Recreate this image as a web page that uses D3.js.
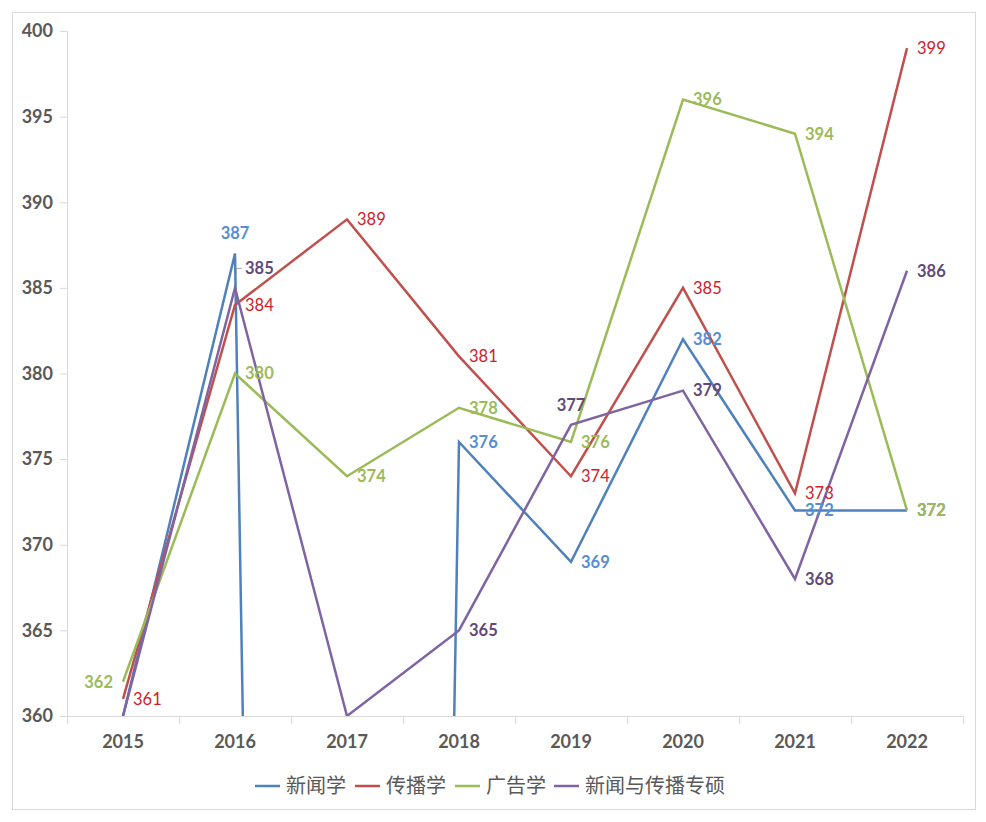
<!DOCTYPE html>
<html>
<head>
<meta charset="utf-8">
<script src="https://cdn.jsdelivr.net/npm/d3@7"></script>
<style>
  body { margin: 0; background: #fff; }
  svg { display: block; }
</style>
</head>
<body>
<div class="container"></div>
<script>
// 年份
const years = ["2015", "2016", "2017", "2018", "2019", "2020", "2021", "2022"];
// 各专业分数线（2017 新闻学无数据，按 0 画出）
const xinwen = [360, 387, 0, 376, 369, 382, 372, 372];
const chuanbo = [361, 384, 389, 381, 374, 385, 373, 399];
const guanggao = [362, 380, 374, 378, 376, 396, 394, 372];
const zhuanshuo = [360, 385, 360, 365, 377, 379, 368, 386];
const seriesNames = ["新闻学", "传播学", "广告学", "新闻与传播专硕"];
const yTicks = [360, 365, 370, 375, 380, 385, 390, 395, 400];

const width = 986, height = 822;
const plotLeft = 67, plotRight = 963, plotTop = 31, plotBottom = 716;

const lineColors = ["#4f81bd", "#c0504d", "#9bbb59", "#8064a2"];
const labelColors = ["#558ed5", "#d0202a", "#9bbb59", "#604a7b"];
const labelWeights = ["bold", "normal", "bold", "bold"];

// 标签位置：默认在点的右边，个别挪开
const labelPos = {
  "0_1": "above",
  "2_0": "left",
  "3_1": "upright",
  "3_4": "above"
};

const svg = d3.select(".container")
  .append("svg")
  .attr("width", width)
  .attr("height", height);

// 外框
svg.append("rect")
  .attr("x", 12.5).attr("y", 12.5)
  .attr("width", 963).attr("height", 797)
  .attr("fill", "#fff")
  .attr("stroke", "#d9d9d9");

const x = d3.scaleBand().domain(years).range([plotLeft, plotRight]);
const y = d3.scaleLinear().domain([360, 400]).range([plotBottom, plotTop]);
const cx = d => x(d) + x.bandwidth() / 2;

// y 轴
const yAxis = svg.append("g")
  .attr("transform", `translate(${plotLeft},0)`)
  .call(d3.axisLeft(y).tickValues(yTicks).tickSize(7).tickPadding(7));
yAxis.select(".domain").attr("stroke", "#d9d9d9");
yAxis.selectAll(".tick line").attr("stroke", "#d9d9d9");
yAxis.selectAll("text")
  .attr("fill", "#595959")
  .style("font-family", "Lato, 'Open Sans', sans-serif")
  .style("font-size", "18px")
  .style("font-weight", "bold");

// x 轴，刻度在类别之间
const xAxis = svg.append("g")
  .attr("transform", `translate(0,${plotBottom})`)
  .call(d3.axisBottom(x).tickSize(0).tickPadding(19));
xAxis.select(".domain").attr("stroke", "#d9d9d9");
xAxis.selectAll("text")
  .attr("fill", "#595959")
  .style("font-family", "Lato, 'Open Sans', sans-serif")
  .style("font-size", "18px")
  .style("font-weight", "bold");
const bounds = years.map(d => x(d)).concat([plotRight]);
xAxis.selectAll(".sep")
  .data(bounds)
  .join("line")
  .attr("class", "sep")
  .attr("x1", d => d + 0.5).attr("x2", d => d + 0.5)
  .attr("y1", 0).attr("y2", 8)
  .attr("stroke", "#d9d9d9");

// 裁剪区
svg.append("clipPath").attr("id", "plot")
  .append("rect")
  .attr("x", plotLeft).attr("y", plotTop - 2)
  .attr("width", plotRight - plotLeft).attr("height", plotBottom - plotTop + 2);

const allSeries = [xinwen, chuanbo, guanggao, zhuanshuo];

const line = d3.line()
  .x((d, i) => cx(years[i]))
  .y(d => y(d));

const lines = svg.append("g").attr("clip-path", "url(#plot)");
allSeries.forEach((s, k) => {
  lines.append("path")
    .datum(s)
    .attr("d", line)
    .attr("fill", "none")
    .attr("stroke", lineColors[k])
    .attr("stroke-width", 2.5)
    .attr("stroke-linejoin", "miter");
});

// 数据标签
const labels = svg.append("g");
allSeries.forEach((s, k) => {
  s.forEach((v, i) => {
    if (v <= 360) return;
    const px = cx(years[i]), py = y(v);
    const pos = labelPos[k + "_" + i] || "right";
    let tx = px + 10, ty = py, anchor = "start";
    if (pos === "above") { tx = px; ty = py - 20; anchor = "middle"; }
    if (pos === "left") { tx = px - 10; anchor = "end"; }
    if (pos === "upright") { tx = px + 10; ty = py - 20; }
    if (pos === "upright") {
      labels.append("line")
        .attr("x1", px + 1).attr("x2", px + 7)
        .attr("y1", ty + 0.5).attr("y2", ty + 0.5)
        .attr("stroke", "#a6a6a6");
      labels.append("line")
        .attr("x1", px + 1.5).attr("x2", px + 1.5)
        .attr("y1", ty).attr("y2", ty + 6)
        .attr("stroke", "#a6a6a6");
    }
    labels.append("text")
      .attr("x", tx).attr("y", ty)
      .attr("dy", "0.35em")
      .attr("text-anchor", anchor)
      .attr("fill", labelColors[k])
      .style("font-family", "Lato, 'Open Sans', sans-serif")
      .style("font-size", "16.5px")
      .style("font-weight", labelWeights[k])
      .text(v);
  });
});

// 图例
const legend = svg.append("g").attr("transform", "translate(0,786)");
const legendX = [255, 355, 455, 554];
seriesNames.forEach((name, k) => {
  const g = legend.append("g").attr("transform", `translate(${legendX[k]},0)`);
  g.append("line")
    .attr("x1", 0).attr("x2", 25)
    .attr("stroke", lineColors[k])
    .attr("stroke-width", 2.5);
  g.append("text")
    .attr("x", 31).attr("dy", "0.35em")
    .attr("fill", "#595959")
    .style("font-family", "'Noto Sans CJK SC', sans-serif")
    .style("font-size", "20px")
    .text(name);
});
</script>
</body>
</html>
